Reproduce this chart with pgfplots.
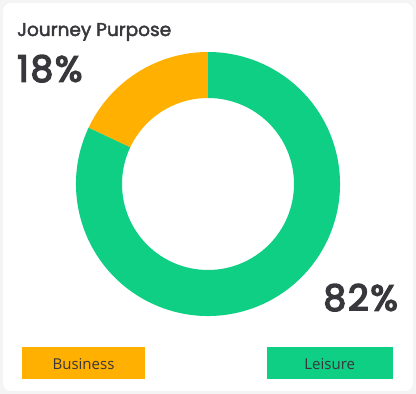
\documentclass[border=0pt]{standalone}
\usepackage{pgfplots}
\pgfplotsset{compat=1.18}
\usepackage{pgfplotstable}
\usepackage{fontspec}
\setmainfont{Open Sans}
\newfontfamily\popm{Poppins}[FakeBold=2.2]
\newfontfamily\popb{Poppins}[FakeBold=4.2,LetterSpace=5]
\definecolor{bizc}{HTML}{FFB000}
\definecolor{leic}{HTML}{0ECF84}
\definecolor{txt}{HTML}{38383C}
\definecolor{bgc}{HTML}{F4F4F4}
\pgfplotstableread{
label value
Business 18
Leisure 82
}\purpose
\begin{document}
\begin{tikzpicture}
\pgfplotstablegetelem{0}{value}\of\purpose \let\vA\pgfplotsretval
\pgfplotstablegetelem{1}{value}\of\purpose \let\vB\pgfplotsretval
\pgfmathsetmacro{\aS}{90}
\pgfmathsetmacro{\aM}{90+\vA/(\vA+\vB)*360}
\pgfmathsetmacro{\aE}{90+360}
\def\cx{208}\def\cy{210}\def\Ro{132}\def\Ri{86}
\begin{axis}[x=1pt,y=1pt,xmin=0,xmax=416,ymin=0,ymax=394,hide axis,scale only axis,clip=false]
\fill[bgc] (axis cs:0,0) rectangle (axis cs:416,394);
\fill[white,rounded corners=8pt] (axis cs:3,3) rectangle (axis cs:413,391);
\fill[bizc] (axis cs:{\cx+\Ro*cos(\aS)},{\cy+\Ro*sin(\aS)}) arc[start angle=\aS,end angle=\aM,radius=\Ro pt]
  -- (axis cs:{\cx+\Ri*cos(\aM)},{\cy+\Ri*sin(\aM)}) arc[start angle=\aM,end angle=\aS,radius=\Ri pt] -- cycle;
\fill[leic] (axis cs:{\cx+\Ro*cos(\aM)},{\cy+\Ro*sin(\aM)}) arc[start angle=\aM,end angle=\aE,radius=\Ro pt]
  -- (axis cs:{\cx+\Ri*cos(\aE)},{\cy+\Ri*sin(\aE)}) arc[start angle=\aE,end angle=\aM,radius=\Ri pt] -- cycle;
\node[anchor=base west,inner sep=0pt,text=txt,font=\popm\fontsize{18.5}{20}\selectfont] at (axis cs:17,358) {Journey Purpose};
\node[anchor=base west,inner sep=0pt,text=txt,font=\popb\fontsize{36}{40}\selectfont] at (axis cs:17,312.5) {18\%};
\node[anchor=base east,inner sep=0pt,text=txt,font=\popb\fontsize{36}{40}\selectfont] at (axis cs:398,83.5) {82\%};
\fill[bizc] (axis cs:22,14.7) rectangle (axis cs:145,47.3);
\fill[leic] (axis cs:266.7,14.7) rectangle (axis cs:392.7,47.3);
\node[anchor=base,inner sep=0pt,text=txt,font=\fontsize{15}{18}\selectfont] at (axis cs:83.5,24.7) {Business};
\node[anchor=base,inner sep=0pt,text=txt,font=\fontsize{15}{18}\selectfont] at (axis cs:329.7,24.7) {Leisure};
\end{axis}
\end{tikzpicture}
\end{document}
